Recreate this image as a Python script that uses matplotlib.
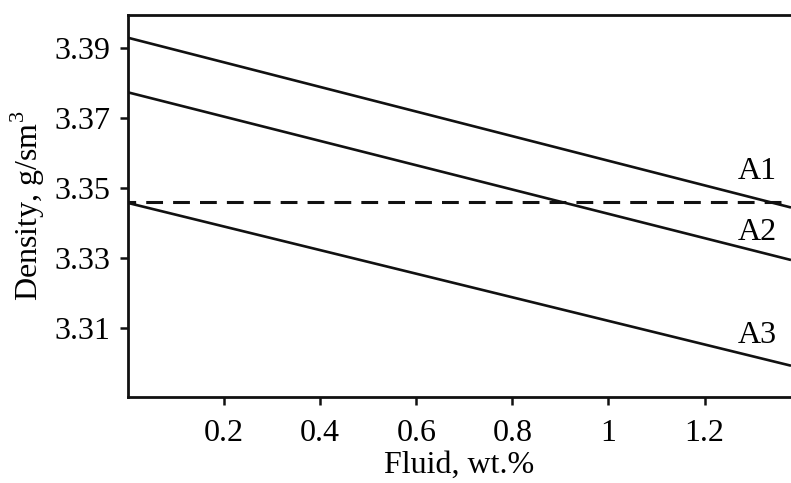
import numpy as np
import matplotlib.pyplot as plt

plt.rcParams['font.family'] = ['Liberation Serif', 'DejaVu Serif']
plt.rcParams['mathtext.fontset'] = 'custom'
plt.rcParams['mathtext.rm'] = 'Liberation Serif'

# fluid content, wt.%
fluid = [0.0, 1.38]
# density, g/sm3
dens_a1 = [3.393, 3.3445]
dens_a2 = [3.3774, 3.3295]
dens_a3 = [3.3458, 3.2993]
dens_ref = 3.346

labels = ["A1", "A2", "A3"]
label_x = 1.31
label_y = [3.3547, 3.3375, 3.308]

W, H = 791, 483
fig = plt.figure(figsize=(W / 100, H / 100), dpi=100)
ax = fig.add_axes([128 / W, (H - 396.5) / H, (W - 128) / W, (396.5 - 15) / H])

ink = "#111111"
for d in (dens_a1, dens_a2, dens_a3):
    ax.plot(fluid, d, color=ink, lw=1.9, solid_capstyle="butt")
ax.axhline(dens_ref, color=ink, lw=2.2, ls=(3.0, (5.5, 3.3)))

for lab, y in zip(labels, label_y):
    ax.text(label_x, y, lab, fontsize=23, ha="center", va="center")

ax.set_xlim(0, 1.38)
ax.set_ylim(3.2905, 3.3995)
ax.set_xticks([0.2, 0.4, 0.6, 0.8, 1.0, 1.2])
ax.set_xticklabels(["0.2", "0.4", "0.6", "0.8", "1", "1.2"])
ax.set_yticks([3.31, 3.33, 3.35, 3.37, 3.39])
ax.set_yticklabels(["3.31", "3.33", "3.35", "3.37", "3.39"])

ax.spines["right"].set_visible(False)
for s in ("left", "bottom", "top"):
    ax.spines[s].set_linewidth(2.0)
    ax.spines[s].set_color(ink)
ax.tick_params(direction="out", length=6, width=1.8, labelsize=23, color=ink)
ax.tick_params(axis="x", pad=10)
ax.tick_params(axis="y", pad=7)

ax.set_xlabel("Fluid, wt.%", fontsize=23, labelpad=2)
ax.set_ylabel("Density, g/sm$^3$", fontsize=23, labelpad=5)

fig.savefig("out.png", dpi=100)
